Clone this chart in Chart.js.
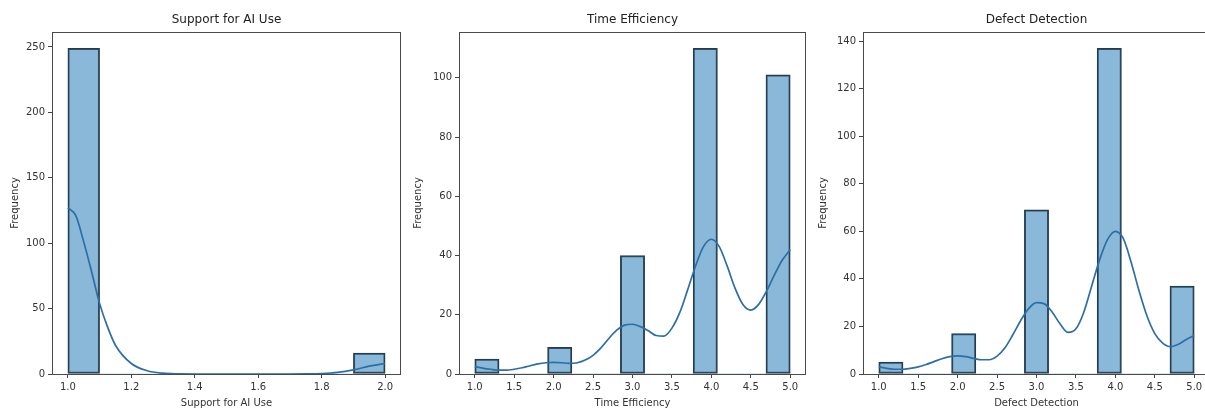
<!DOCTYPE html>
<html><head><meta charset="utf-8">
<script src="https://cdn.jsdelivr.net/npm/chart.js@4.4.1/dist/chart.umd.min.js"></script>
<style>
html,body{margin:0;padding:0;background:#fff;overflow:hidden;width:1205px;height:412px;position:relative;}
canvas{position:absolute;top:0;}
</style></head><body>
<canvas id="c1" width="405" height="412" style="left:0px"></canvas>
<canvas id="c2" width="405" height="412" style="left:405px"></canvas>
<canvas id="c3" width="405" height="412" style="left:810px"></canvas>
<script>
// ---------- data ----------
const supportTitle = 'Support for AI Use';
const timeTitle = 'Time Efficiency';
const defectTitle = 'Defect Detection';

// histogram bin counts (equal-width bins across the data range)
const supportRange = [1, 2];
const supportCounts = [249, 0, 0, 0, 0, 0, 0, 0, 0, 16];
const timeRange = [1, 5];
const timeCounts = [5, 0, 0, 9, 0, 0, 40, 0, 0, 110, 0, 0, 101];
const defectRange = [1, 5];
const defectCounts = [5, 0, 0, 17, 0, 0, 69, 0, 0, 137, 0, 0, 37];

// KDE curves
const supportKdeX = [1.0, 1.025, 1.05, 1.075, 1.1, 1.125, 1.15, 1.2, 1.25, 1.3, 1.35, 1.4, 1.5, 1.6, 1.7, 1.75, 1.8, 1.85, 1.9, 1.95, 2.0];
const supportKdeY = [127, 121, 101, 78, 54, 36, 22, 8, 2.5, 0.6, 0.1, 0, 0, 0, 0, 0.1, 0.4, 1.3, 3.2, 6, 8];

const timeKdeX = [1.0, 1.1, 1.2, 1.3, 1.4, 1.5, 1.6, 1.7, 1.8, 1.9, 2.0, 2.1, 2.2, 2.3, 2.4, 2.5, 2.6, 2.7, 2.8, 2.9, 3.0, 3.1, 3.2, 3.3, 3.4, 3.5, 3.6, 3.7, 3.8, 3.9, 4.0, 4.1, 4.2, 4.3, 4.4, 4.5, 4.6, 4.7, 4.8, 4.9, 5.0];
const timeKdeY = [2.5, 2.0, 1.6, 1.3, 1.3, 1.6, 2.1, 2.8, 3.4, 3.8, 3.9, 3.8, 3.6, 3.8, 4.7, 6.3, 8.8, 12, 14.8, 16.5, 16.8, 16.0, 14.6, 13.0, 12.8, 15.5, 20.8, 28.5, 36.5, 43, 45.5, 43, 36.5, 29, 23.5, 21.6, 23.5, 28, 33.5, 38.5, 42];

const defectKdeX = [1.0, 1.1, 1.2, 1.3, 1.4, 1.5, 1.6, 1.7, 1.8, 1.9, 2.0, 2.1, 2.2, 2.3, 2.4, 2.5, 2.6, 2.7, 2.8, 2.9, 3.0, 3.1, 3.2, 3.3, 3.4, 3.5, 3.6, 3.7, 3.8, 3.9, 4.0, 4.1, 4.2, 4.3, 4.4, 4.5, 4.6, 4.7, 4.8, 4.9, 5.0];
const defectKdeY = [3, 2.4, 2.0, 2.0, 2.4, 3.0, 4.0, 5.2, 6.4, 7.3, 7.6, 7.3, 6.6, 6.0, 6.0, 7.5, 11, 16.5, 22.5, 27.5, 30, 29.5, 26, 21, 17.5, 19, 26, 37, 48, 56.5, 60, 57, 47, 35, 24.5, 17, 13, 11.5, 12.5, 14.5, 16.2];

// tick labels
const supportXTicks = [1.0, 1.2, 1.4, 1.6, 1.8, 2.0];
const supportYTicks = [0, 50, 100, 150, 200, 250];
const timeXTicks = [1.0, 1.5, 2.0, 2.5, 3.0, 3.5, 4.0, 4.5, 5.0];
const timeYTicks = [0, 20, 40, 60, 80, 100];
const defectXTicks = [1.0, 1.5, 2.0, 2.5, 3.0, 3.5, 4.0, 4.5, 5.0];
const defectYTicks = [0, 20, 40, 60, 80, 100, 120, 140];

// ---------- drawing ----------
const FONT = 'DejaVu Sans';
const boxPlugin = {
  id: 'box',
  afterDatasetsDraw(chart) {
    const {ctx, chartArea: a} = chart;
    ctx.save();
    ctx.strokeStyle = '#4a4a4a';
    ctx.lineWidth = 1;
    ctx.strokeRect(Math.round(a.left) + 0.5, Math.round(a.top) + 0.5,
                   Math.round(a.right - a.left) - 1, Math.round(a.bottom - a.top));
    ctx.restore();
  }
};

function makeChart(id, title, counts, range, kdeX, kdeY, xTicks, yTicks, yAxisWidth, yTitlePad, padRight) {
  const nb = counts.length;
  const w = (range[1] - range[0]) / nb;
  const bars = counts.map((c, i) => ({x: range[0] + (i + 0.5) * w, y: c}));
  const line = kdeX.map((x, i) => ({x: x, y: kdeY[i]}));
  const span = range[1] - range[0];
  const yMax = Math.max(...counts) * 1.05;
  new Chart(document.getElementById(id), {
    type: 'bar',
    data: {datasets: [
      {type: 'line', data: line, borderColor: '#2d6ea6', borderWidth: 1.7, pointRadius: 0,
       cubicInterpolationMode: 'monotone', fill: false, order: 0},
      {type: 'bar', data: bars, backgroundColor: 'rgba(31,119,180,0.52)', borderColor: '#2c3842',
       borderWidth: c => (c.raw && c.raw.y > 0 ? 1.3 : 0), borderSkipped: false,
       categoryPercentage: 1, barPercentage: 1, order: 1}
    ]},
    options: {
      responsive: false, animation: false, devicePixelRatio: 1,
      layout: {padding: {left: 0, right: padRight, top: 0, bottom: 0}},
      plugins: {
        legend: {display: false}, tooltip: {enabled: false},
        title: {display: true, text: title, fullSize: false, color: '#222',
                font: {family: FONT, size: 12, weight: 'normal'}, padding: {top: 13, bottom: 4.6}}
      },
      scales: {
        x: {type: 'linear', offset: false, min: range[0] - 0.05 * span, max: range[1] + 0.05 * span,
            afterBuildTicks: s => { s.ticks = xTicks.map(v => ({value: v})); },
            afterFit: s => { s.height = 38; },
            ticks: {callback: v => Number(v).toFixed(1), font: {family: FONT, size: 10}, color: '#333',
                    padding: 3, maxRotation: 0, autoSkip: false},
            grid: {display: true, offset: false, drawOnChartArea: false, drawTicks: true, tickLength: 4, color: '#444'},
            border: {display: false},
            title: {display: true, text: title, font: {family: FONT, size: 10}, color: '#333',
                    padding: {top: 0, bottom: 3}}},
        y: {type: 'linear', min: 0, max: yMax,
            afterBuildTicks: s => { s.ticks = yTicks.map(v => ({value: v})); },
            afterFit: s => { s.width = yAxisWidth; },
            ticks: {callback: v => String(v), font: {family: FONT, size: 10}, color: '#333', padding: 3, autoSkip: false},
            grid: {display: true, drawOnChartArea: false, drawTicks: true, tickLength: 4, color: '#444'},
            border: {display: false},
            title: {display: true, text: 'Frequency', font: {family: FONT, size: 10}, color: '#333',
                    padding: {top: yTitlePad, bottom: 0}}}
      }
    },
    plugins: [boxPlugin]
  });
}

makeChart('c1', supportTitle, supportCounts, supportRange, supportKdeX, supportKdeY, supportXTicks, supportYTicks, 52, 9, 4);
makeChart('c2', timeTitle, timeCounts, timeRange, timeKdeX, timeKdeY, timeXTicks, timeYTicks, 54, 7, 4);
makeChart('c3', defectTitle, defectCounts, defectRange, defectKdeX, defectKdeY, defectXTicks, defectYTicks, 53, 7, 5);
</script>
</body></html>
